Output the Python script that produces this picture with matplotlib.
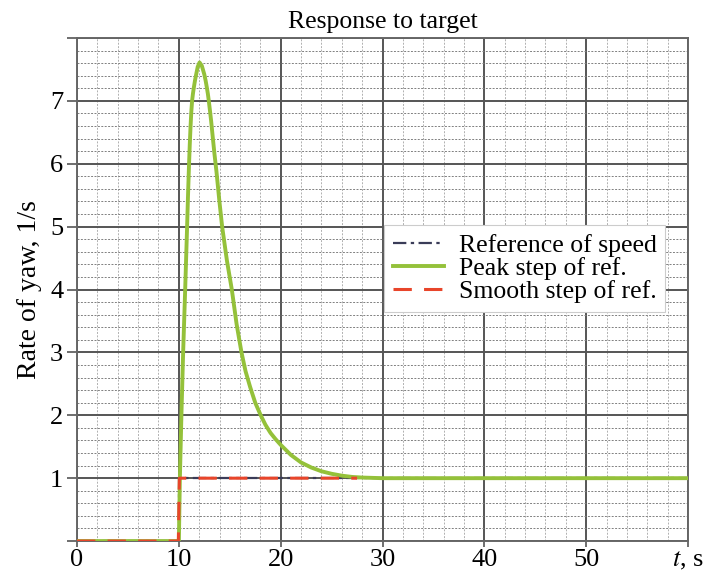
import matplotlib
matplotlib.use("Agg")
import matplotlib.pyplot as plt
from matplotlib.ticker import MultipleLocator

plt.rcParams['font.family'] = ['Liberation Serif', 'DejaVu Serif']
plt.rcParams['mathtext.fontset'] = 'stix'

# Data
ref_t = [0, 10, 10, 60]
ref_y = [0, 0, 1, 1]

smooth_t = [0, 9.95, 10.05, 27.5]
smooth_y = [0, 0, 1, 1]

peak_t = [0, 10.0, 10.05, 10.1, 10.25, 10.42, 10.62, 10.8, 10.9, 10.99, 11.07, 11.15, 11.22,
          11.3, 11.38, 11.47, 11.58, 11.7, 11.85, 12.03, 12.25, 12.5, 12.63, 12.75, 12.85,
          12.94, 13.05, 13.17, 13.33, 13.5, 13.69, 13.97, 14.25, 14.72, 15.2, 15.67, 16.15,
          16.55, 17.0, 17.5, 18.04, 18.5, 19.0, 19.5, 20.0, 21.0, 22.0, 23.0, 24.0, 25.0,
          26.0, 27.0, 28.0, 30.0, 60.0]
peak_y = [0, 0, 0.5, 1.0, 2.0, 3.0, 4.0, 4.95, 5.5, 5.95, 6.3, 6.6, 6.82,
          7.0, 7.11, 7.21, 7.32, 7.42, 7.54, 7.61, 7.56, 7.42, 7.32, 7.21, 7.11,
          7.0, 6.85, 6.68, 6.42, 6.15, 5.88, 5.42, 5.0, 4.46, 4.0, 3.45, 3.0,
          2.7, 2.45, 2.2, 2.0, 1.85, 1.72, 1.62, 1.53, 1.37, 1.25, 1.17, 1.11, 1.07,
          1.04, 1.02, 1.01, 1.0, 1.0]

xticks = [0, 10, 20, 30, 40, 50, 60]
xticklabels = ['0', '10', '20', '30', '40', '50', '$t$, s']
yticks = [0, 1, 2, 3, 4, 5, 6, 7, 8]
yticklabels = ['', '1', '2', '3', '4', '5', '6', '7', '']

fig = plt.figure(figsize=(7.1, 5.75), dpi=100)
ax = fig.add_axes([0.1085, 0.059, 0.8605, 0.875])

ax.set_xlim(0, 60)
ax.set_ylim(0, 8)

ax.xaxis.set_minor_locator(MultipleLocator(2))
ax.yaxis.set_minor_locator(MultipleLocator(0.2))
ax.grid(which='major', color='#555555', linewidth=1.4, zorder=0)
ax.grid(which='minor', axis='y', color='#808080', linewidth=0.7, linestyle=(0, (2, 1.5)), zorder=0)
ax.grid(which='minor', axis='x', color='#b0b0b0', linewidth=0.7, linestyle=(0, (2, 1.5)), zorder=0)

ax.plot(ref_t, ref_y, color='#3a3c58', linestyle=(0, (6, 2, 1.5, 2)), linewidth=1.6,
        label='Reference of speed', zorder=3)
ax.plot(peak_t, peak_y, color='#94c13a', linewidth=2.8, label='Peak step of ref.', zorder=4,
        solid_joinstyle='round')
ax.plot(smooth_t, smooth_y, color='#e8452a', linestyle=(0, (6, 4)), linewidth=2.2,
        label='Smooth step of ref.', zorder=5)

ax.set_xticks(xticks)
ax.set_xticklabels(xticklabels)
ax.set_yticks(yticks)
ax.set_yticklabels(yticklabels)

ax.tick_params(axis='x', which='major', length=4, width=1.2, color='#555555', labelsize=19, pad=2)
ax.tick_params(axis='y', which='major', length=7, width=1.2, color='#555555', labelsize=19, pad=3)
ax.tick_params(which='minor', length=0)

for s in ax.spines.values():
    s.set_color('#666666')
    s.set_linewidth(1.4)

ax.set_title('Response to target', fontsize=18.5, pad=7)
ax.set_ylabel('Rate of yaw, 1/s', fontsize=20, labelpad=6)

leg = ax.legend(loc='upper left', bbox_to_anchor=(0.5025, 0.628), fontsize=18.5, frameon=True,
                fancybox=False, edgecolor='#cccccc', framealpha=1.0, handlelength=2.0,
                borderpad=0.35, labelspacing=0.0, handletextpad=0.55, borderaxespad=0)
leg.get_frame().set_linewidth(0.8)

fig.savefig('out.png', dpi=100)
